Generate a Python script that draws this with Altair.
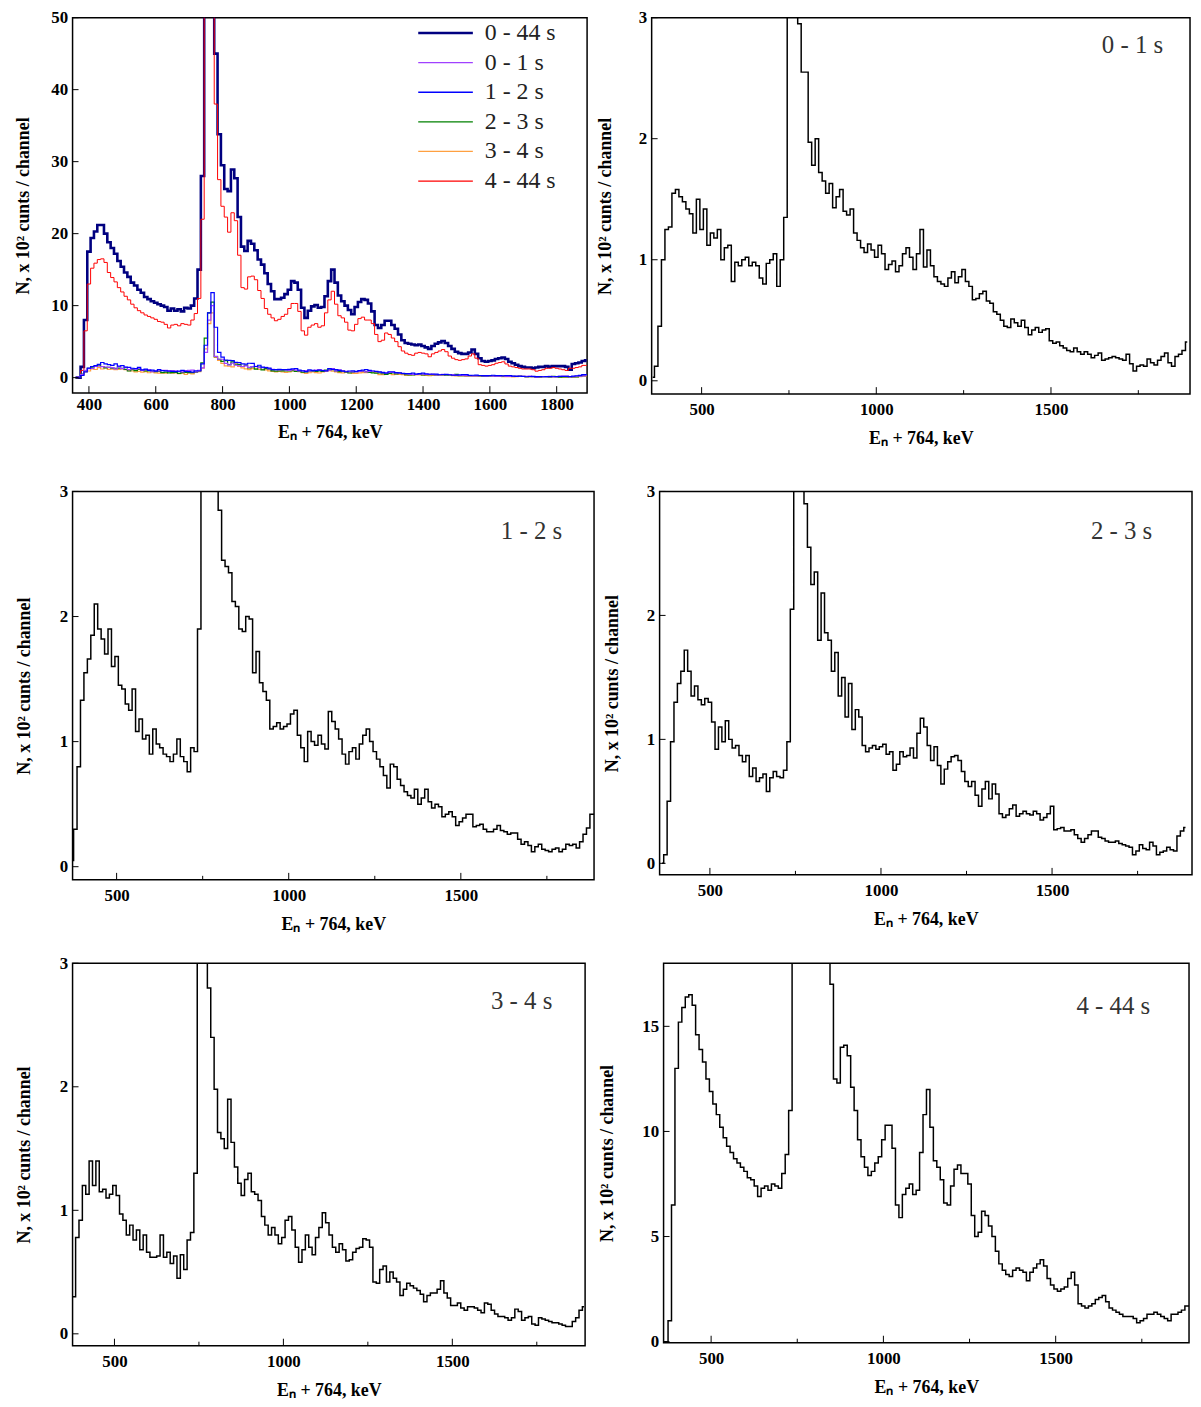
import altair as alt
import pandas as pd

# channel energies (keV), 10 keV grid
ENERGY = list(range(360, 1900, 10))

# counts per channel, x 10^2
S_0_44 = [
    0, 0, 1.5, 8.0, 17.5, 19.4, 20.3, 21.2, 21.2, 20.0,
    18.8, 18.0, 17.2, 16.2, 15.4, 14.6, 14.0, 13.2, 12.8, 12.2,
    11.8, 11.2, 10.9, 10.6, 10.4, 10.2, 10.0, 9.8, 9.3, 9.6,
    9.3, 9.5, 9.2, 9.7, 9.6, 10.0, 11.0, 15.0, 28.0, 70.0,
    130.0, 110.0, 45.0, 33.8, 29.5, 26.2, 25.9, 28.9, 27.7, 22.3,
    18.2, 17.6, 19.0, 18.6, 17.7, 16.4, 15.7, 14.5, 13.0, 12.0,
    10.9, 10.9, 11.1, 11.6, 12.2, 13.4, 13.2, 12.2, 9.7, 8.3,
    9.3, 9.9, 10.1, 9.7, 9.8, 11.3, 13.4, 15.0, 13.2, 11.4,
    10.6, 10.0, 9.4, 8.8, 9.8, 10.5, 10.9, 10.8, 10.3, 9.2,
    7.3, 6.9, 7.3, 7.9, 7.9, 7.3, 6.8, 6.0, 5.2, 4.8,
    4.7, 4.6, 4.5, 4.6, 4.4, 4.2, 4.0, 4.4, 4.7, 4.9,
    5.1, 4.8, 4.4, 4.0, 3.6, 3.4, 3.3, 3.3, 3.5, 3.9,
    3.3, 2.7, 2.3, 2.2, 2.3, 2.4, 2.6, 2.7, 2.8, 2.6,
    2.2, 2.0, 1.8, 1.6, 1.5, 1.4, 1.4, 1.3, 1.4, 1.5,
    1.5, 1.6, 1.5, 1.6, 1.6, 1.6, 1.6, 1.5, 1.1, 1.9,
    2.0, 2.1, 2.3, 2.4,
]

S_0_1 = [
    0.03, 0.12, 0.45, 1.00, 1.25, 1.27, 1.55, 1.58, 1.52, 1.48,
    1.42, 1.38, 1.22, 1.50, 1.25, 1.42, 1.12, 1.22, 1.18, 1.25,
    1.00, 1.10, 1.12, 0.82, 0.98, 0.95, 1.00, 1.02, 0.95, 0.98,
    0.95, 0.85, 0.80, 0.97, 1.00, 1.05, 0.78, 1.00, 1.35, 3.5,
    8.0, 10.0, 2.95, 2.55, 2.55, 1.97, 1.78, 2.00, 1.72, 1.65,
    1.55, 1.63, 1.43, 1.52, 1.58, 1.40, 1.37, 1.42, 1.22, 1.16,
    1.10, 1.06, 1.13, 1.08, 1.02, 1.12, 1.05, 0.92, 0.96, 0.99,
    0.90, 0.95, 1.05, 1.10, 1.02, 0.92, 1.05, 1.25, 0.94, 1.08,
    0.95, 0.86, 0.82, 0.80, 0.78, 0.85, 0.90, 0.81, 0.86, 0.92,
    0.82, 0.78, 0.67, 0.68, 0.72, 0.74, 0.66, 0.64, 0.57, 0.55,
    0.50, 0.45, 0.44, 0.51, 0.48, 0.45, 0.50, 0.44, 0.38, 0.42,
    0.44, 0.40, 0.42, 0.43, 0.33, 0.31, 0.32, 0.29, 0.27, 0.25,
    0.24, 0.27, 0.24, 0.22, 0.24, 0.22, 0.19, 0.21, 0.23, 0.17,
    0.18, 0.19, 0.20, 0.19, 0.18, 0.17, 0.22, 0.14, 0.08, 0.12,
    0.13, 0.12, 0.18, 0.15, 0.13, 0.17, 0.20, 0.23, 0.15, 0.12,
    0.20, 0.22, 0.25, 0.32,
]

S_1_2 = [
    0, 0.05, 0.30, 0.80, 1.33, 1.55, 1.66, 1.85, 2.10, 1.90,
    1.82, 1.70, 1.90, 1.60, 1.68, 1.45, 1.42, 1.30, 1.25, 1.42,
    1.08, 1.18, 1.02, 1.05, 0.90, 1.10, 0.98, 0.95, 0.90, 0.88,
    0.84, 0.90, 1.02, 0.88, 0.84, 0.76, 0.95, 0.92, 1.90, 4.5,
    9.0, 11.8, 7.0, 3.5, 2.85, 2.45, 2.40, 2.35, 2.12, 2.08,
    1.90, 1.88, 2.00, 1.98, 1.55, 1.72, 1.47, 1.40, 1.33, 1.10,
    1.12, 1.15, 1.10, 1.12, 1.14, 1.22, 1.25, 1.05, 0.95, 0.84,
    1.08, 1.00, 0.97, 1.05, 0.98, 0.94, 1.24, 1.16, 1.10, 1.02,
    0.90, 0.82, 0.92, 0.95, 0.86, 0.98, 1.05, 1.10, 1.00, 0.92,
    0.86, 0.80, 0.73, 0.63, 0.82, 0.80, 0.70, 0.65, 0.60, 0.57,
    0.55, 0.62, 0.50, 0.55, 0.62, 0.52, 0.47, 0.50, 0.48, 0.40,
    0.42, 0.44, 0.40, 0.33, 0.36, 0.39, 0.42, 0.42, 0.32, 0.33,
    0.34, 0.30, 0.28, 0.28, 0.30, 0.33, 0.29, 0.28, 0.26, 0.27,
    0.27, 0.22, 0.18, 0.20, 0.17, 0.12, 0.16, 0.18, 0.14, 0.13,
    0.12, 0.14, 0.15, 0.12, 0.14, 0.18, 0.17, 0.18, 0.15, 0.20,
    0.26, 0.31, 0.42, 0.42,
]

S_2_3 = [
    0, 0.07, 0.50, 0.98, 1.30, 1.45, 1.55, 1.72, 1.55, 1.35,
    1.43, 1.32, 1.28, 1.33, 1.30, 1.14, 0.92, 1.10, 0.98, 1.15,
    1.00, 0.93, 0.95, 0.87, 0.82, 0.87, 0.70, 0.77, 0.66, 0.69,
    0.72, 0.58, 0.69, 0.74, 0.70, 0.69, 0.75, 0.98, 2.05, 5.5,
    9.0, 10.5, 2.9, 2.55, 2.25, 2.35, 1.80, 2.18, 1.86, 1.80,
    1.55, 1.70, 1.35, 1.50, 1.18, 1.45, 1.08, 1.24, 1.18, 0.95,
    0.90, 0.93, 0.95, 0.92, 0.94, 0.96, 0.88, 0.90, 0.75, 0.80,
    0.90, 0.86, 0.87, 0.93, 0.85, 1.05, 1.17, 1.10, 0.95, 0.83,
    0.94, 0.79, 0.64, 0.76, 0.82, 0.86, 0.87, 0.83, 0.74, 0.66,
    0.62, 0.66, 0.55, 0.46, 0.60, 0.66, 0.52, 0.64, 0.56, 0.40,
    0.37, 0.39, 0.44, 0.47, 0.38, 0.40, 0.42, 0.40, 0.39, 0.42,
    0.40, 0.35, 0.37, 0.40, 0.46, 0.27, 0.28, 0.29, 0.26, 0.26,
    0.27, 0.23, 0.20, 0.17, 0.20, 0.23, 0.26, 0.26, 0.21, 0.20,
    0.18, 0.17, 0.17, 0.18, 0.16, 0.15, 0.14, 0.13, 0.07, 0.10,
    0.15, 0.12, 0.11, 0.17, 0.14, 0.07, 0.09, 0.10, 0.13, 0.11,
    0.10, 0.22, 0.26, 0.29,
]

S_3_4 = [
    0, 0.02, 0.30, 0.78, 0.92, 1.20, 1.13, 1.40, 1.20, 1.40,
    1.15, 1.17, 1.10, 1.13, 1.20, 1.12, 0.97, 0.92, 0.80, 0.88,
    0.76, 0.84, 0.68, 0.80, 0.66, 0.62, 0.62, 0.63, 0.80, 0.62,
    0.66, 0.57, 0.63, 0.45, 0.64, 0.52, 0.76, 0.82, 1.30, 4.0,
    7.5, 9.0, 2.8, 2.40, 1.98, 1.63, 1.58, 1.50, 1.90, 1.55,
    1.35, 1.22, 1.12, 1.25, 1.30, 1.15, 1.13, 1.08, 0.95, 0.88,
    0.80, 0.86, 0.80, 0.73, 0.78, 0.92, 0.95, 0.84, 0.70, 0.58,
    0.68, 0.80, 0.70, 0.64, 0.78, 0.86, 0.98, 0.90, 0.80, 0.70,
    0.66, 0.73, 0.68, 0.59, 0.60, 0.66, 0.69, 0.70, 0.77, 0.76,
    0.70, 0.42, 0.41, 0.52, 0.55, 0.42, 0.50, 0.45, 0.42, 0.31,
    0.36, 0.41, 0.39, 0.37, 0.35, 0.32, 0.26, 0.31, 0.33, 0.33,
    0.36, 0.43, 0.33, 0.29, 0.23, 0.23, 0.25, 0.21, 0.19, 0.22,
    0.22, 0.21, 0.19, 0.17, 0.25, 0.24, 0.19, 0.16, 0.14, 0.14,
    0.13, 0.11, 0.13, 0.20, 0.18, 0.11, 0.13, 0.14, 0.08, 0.07,
    0.13, 0.12, 0.11, 0.10, 0.09, 0.09, 0.08, 0.07, 0.06, 0.06,
    0.10, 0.13, 0.19, 0.22,
]

S_4_44 = [
    0, 0, 1.0, 6.5, 13.0, 15.2, 15.9, 16.4, 16.5, 16.0,
    14.6, 13.9, 13.3, 12.5, 11.9, 11.3, 10.8, 10.2, 9.7, 9.3,
    9.0, 8.7, 8.5, 8.3, 8.1, 7.8, 7.7, 7.4, 6.9, 7.3,
    7.4, 7.2, 7.5, 7.4, 7.3, 8.0, 8.9, 11.0, 22.0, 60.0,
    110.0, 95.0, 38.0, 27.5, 23.8, 22.3, 20.2, 22.9, 21.8, 17.0,
    12.5, 12.3, 14.0, 14.1, 13.6, 12.1, 11.0, 9.6, 8.8, 8.3,
    7.9, 8.1, 8.5, 8.8, 9.6, 10.3, 10.3, 9.2, 6.5, 5.9,
    7.0, 7.3, 7.5, 7.0, 7.2, 9.0, 10.8, 12.0, 10.2, 8.6,
    8.3, 7.7, 6.6, 6.5, 7.4, 8.2, 8.4, 8.0, 8.0, 7.5,
    6.0, 5.0, 5.2, 6.2, 6.0, 5.5, 5.0, 4.3, 3.7, 3.4,
    3.2, 3.1, 3.4, 3.5, 3.4, 3.3, 2.9, 3.3, 3.5, 3.7,
    3.9, 3.6, 3.0, 2.7, 2.5, 2.4, 2.5, 2.6, 3.0, 3.3,
    2.7, 1.8, 1.7, 1.6, 1.7, 1.8, 2.0, 2.1, 2.2, 1.9,
    1.6, 1.5, 1.4, 1.3, 1.2, 1.2, 1.2, 1.1, 0.9, 1.0,
    1.1, 1.3, 1.3, 1.4, 1.3, 1.2, 1.1, 1.0, 1.3, 1.3,
    1.4, 1.5, 1.7, 1.7,
]

SERIES = ["0 - 44 s", "0 - 1 s", "1 - 2 s", "2 - 3 s", "3 - 4 s", "4 - 44 s"]
COLORS = ["#000080", "#a040ff", "#0000ff", "#008000", "#ffa040", "#ff0000"]
WIDTHS = [2.6, 1.2, 1.2, 1.2, 1.2, 1.0]
DATA = [S_0_44, S_0_1, S_1_2, S_2_3, S_3_4, S_4_44]
for arr in DATA:
    assert len(arr) == len(ENERGY), len(arr)

X_MAIN_TICKS = [400, 600, 800, 1000, 1200, 1400, 1600, 1800]
Y_MAIN_TICKS = [0, 10, 20, 30, 40, 50]
X_TICKS = [500, 1000, 1500]
X_MINOR = [750, 1250, 1750]
Y_TICKS = [0, 1, 2, 3]
Y_TICKS_LAST = [0, 5, 10, 15]

FONT = "Liberation Serif"
XTITLE = "Eₙ + 764, keV"
YTITLE = "N, x 10² cunts / channel"


def encodings(xdom, ydom, xvals, yvals, ytp, xlp, xtp):
    X = alt.X("E:Q", scale=alt.Scale(domain=xdom, nice=False, zero=False),
              axis=alt.Axis(values=xvals, format="d", title=XTITLE, grid=False,
                            domain=False, ticks=False, tickSize=0,
                            labelFont=FONT, labelFontWeight="bold", labelFontSize=17,
                            labelColor="black", labelPadding=xlp, labelOverlap=False,
                            labelFlush=False,
                            titleFont=FONT, titleFontWeight="bold", titleFontSize=18,
                            titleColor="black", titlePadding=xtp))
    Y = alt.Y("N:Q", scale=alt.Scale(domain=ydom, nice=False, zero=False),
              axis=alt.Axis(values=yvals, format="d", title=YTITLE, grid=False,
                            domain=False, ticks=False, tickSize=0,
                            labelFont=FONT, labelFontWeight="bold", labelFontSize=17,
                            labelColor="black", labelPadding=5, labelOverlap=False,
                            titleFont=FONT, titleFontWeight="bold", titleFontSize=18,
                            titleColor="black", titlePadding=ytp))
    return X, Y


def tick_layers(X, Y, xmaj, xmin, ymaj, h):
    out = [alt.Chart(pd.DataFrame({"E": xmaj})).mark_rule(color="black", strokeWidth=1)
           .encode(x=X, y=alt.value(h), y2=alt.value(h - 7))]
    if xmin:
        out.append(alt.Chart(pd.DataFrame({"E": xmin})).mark_rule(color="black", strokeWidth=1)
                   .encode(x=X, y=alt.value(h), y2=alt.value(h - 4)))
    out.append(alt.Chart(pd.DataFrame({"N": ymaj})).mark_rule(color="black", strokeWidth=1)
               .encode(y=Y, x=alt.value(0), x2=alt.value(6)))
    return out


# ---- main panel (all series)
W1, H1 = 518, 378
X1, Y1 = encodings([351, 1891], [-2.15, 50], X_MAIN_TICKS, Y_MAIN_TICKS, 18, 4, 11)
main_layers = []
for idx in [0, 5, 4, 3, 1, 2]:
    df = pd.DataFrame({"E": ENERGY, "N": DATA[idx]})
    main_layers.append(
        alt.Chart(df).mark_line(interpolate="step", clip=True, color=COLORS[idx],
                                strokeWidth=WIDTHS[idx]).encode(x=X1, y=Y1))
main_layers += tick_layers(X1, Y1, X_MAIN_TICKS, None, Y_MAIN_TICKS, H1)
for i, name in enumerate(SERIES):
    yy = 15.5 + 29.8 * i
    main_layers.append(
        alt.Chart(pd.DataFrame({"s": [name]})).mark_rule(color=COLORS[i], strokeWidth=max(WIDTHS[i], 1.3))
        .encode(x=alt.value(348), x2=alt.value(403), y=alt.value(yy)))
    main_layers.append(
        alt.Chart(pd.DataFrame({"s": [name]})).mark_text(font=FONT, fontSize=24, align="left",
                                                       baseline="middle", color="#222")
        .encode(text="s:N", x=alt.value(415), y=alt.value(yy)))
p1 = alt.layer(*main_layers).properties(width=W1, height=H1)


def small_panel(idx, xdom, ydom, yvals, w, h, dx, dy, ytp):
    X, Y = encodings(xdom, ydom, X_TICKS, yvals, ytp, 8, 12)
    df = pd.DataFrame({"E": ENERGY, "N": DATA[idx]})
    layers = [alt.Chart(df).mark_line(interpolate="step", clip=True, color="black",
                                      strokeWidth=1.5).encode(x=X, y=Y)]
    layers += tick_layers(X, Y, X_TICKS, X_MINOR, yvals, h)
    layers.append(alt.Chart(pd.DataFrame({"t": [SERIES[idx]]}))
                  .mark_text(font=FONT, fontSize=25, align="right", baseline="middle", color="#333")
                  .encode(text="t:N", x=alt.value(w - dx), y=alt.value(dy)))
    return alt.layer(*layers).properties(width=w, height=h)


p2 = small_panel(1, [357, 1898], [-0.11, 3], Y_TICKS, 542, 379, 27, 28, 23.5)
p3 = small_panel(2, [372, 1887], [-0.105, 3], Y_TICKS, 525, 391, 32, 40, 26)
p4 = small_panel(3, [353, 1909], [-0.093, 3], Y_TICKS, 536, 386, 40, 40, 24.5)
p5 = small_panel(4, [376, 1893], [-0.096, 3], Y_TICKS, 516, 385, 33, 38, 26)
p6 = small_panel(5, [362, 1887], [-0.05, 18], Y_TICKS_LAST, 529, 382, 39, 43, 25)

row1 = alt.hconcat(p1, p2, spacing=65, bounds="flush")
row2 = alt.hconcat(p3, p4, spacing=66, bounds="flush")
row3 = alt.hconcat(p5, p6, spacing=79, bounds="flush")
upper = alt.concat(row1, row2, columns=1, align="none", spacing=33)
chart = alt.concat(upper, row3, columns=1, align="none", spacing=19).properties(
    padding={"left": 6, "top": -5, "right": 0, "bottom": 0},
    background="white",
).configure_view(stroke="black", strokeWidth=1.5)

chart.save("out.html", embed_options={"renderer": "svg", "actions": False})
